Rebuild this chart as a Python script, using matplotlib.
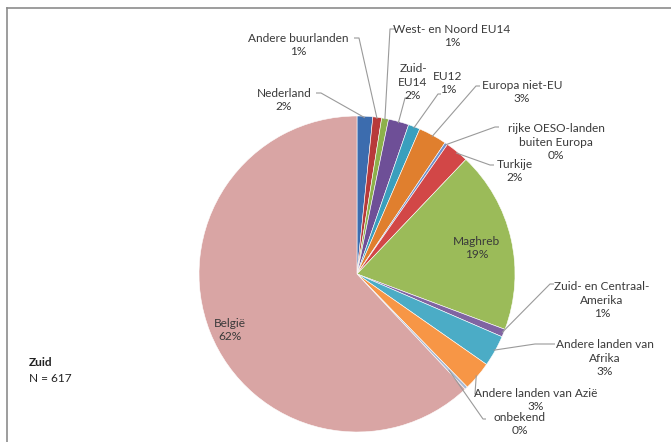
import numpy as np
import matplotlib
matplotlib.use("Agg")
import matplotlib.pyplot as plt
from matplotlib.lines import Line2D

plt.rcParams['font.family'] = ['Lato', 'DejaVu Sans']

# ---- data ----
categories = ["Nederland", "Andere buurlanden", "West- en Noord EU14", "Zuid-\nEU14", "EU12",
              "Europa niet-EU", "rijke OESO-landen\nbuiten Europa", "Turkije", "Maghreb",
              "Zuid- en Centraal-\nAmerika", "Andere landen van\nAfrika", "Andere landen van Azië",
              "onbekend", "België"]
shares = [1.6, 0.9, 0.7, 2.1, 1.2, 2.9, 0.3, 2.4, 18.6, 0.8, 3.2, 3.0, 0.3, 62.0]
pct_labels = ["2%", "1%", "1%", "2%", "1%", "3%", "0%", "2%", "19%", "1%", "3%", "3%", "0%", "62%"]
colors = ["#3C6CAE", "#B83A3A", "#8DB14A", "#6E4F97", "#3A9FBD", "#E07F2E", "#6F90CC",
          "#D24747", "#9BBB59", "#8064A2", "#4BACC6", "#F79646", "#A9B8D2", "#D9A5A4"]
region_title = "Zuid"
n_text = "N = 617"

W, H = 671, 442
fig = plt.figure(figsize=(W / 100, H / 100), dpi=100)
ax = fig.add_axes([0, 0, 1, 1])

def Y(yp):
    return H - yp

cx, cy, R = 357, Y(274), 158
wedges, _ = ax.pie(shares, colors=colors, startangle=90, counterclock=False,
                   center=(cx, cy), radius=R, frame=True,
                   wedgeprops=dict(linewidth=0.4, edgecolor='white'))
ax.set_xlim(0, W)
ax.set_ylim(0, H)
ax.set_aspect('equal')
ax.axis('off')

# label layout: (text center x, text center y, anchor x, anchor y, stub dx, radius factor)
layout = [
    (284, 100, 316, 93, 5, 0.99),
    (298, 45, 354, 38, 5, 0.99),
    (452, 36, 396, 29, -6, 0.99),
    (413, 82, 409, 98, -4, 0.99),
    (448, 83, 441, 94, -3, 0.99),
    (522, 92, 480, 86, -4, 0.99),
    (556, 142, 499, 127, -4, 0.99),
    (515, 171, 494, 165, -4, 0.99),
    None,
    (602, 300, 554, 284, -4, 0.99),
    (605, 358, 555, 344, -20, 0.99),
    (536, 400, 478, 394, -3, 0.99),
    (520, 424, 486, 419, -3, 0.84),
    None,
]
inside = {8: (477, 248), 13: (230, 330)}

total = sum(shares)
cum = 0.0
txtcol = "#3A3A3A"
fs = 8.6
for i, (name, v) in enumerate(zip(categories, shares)):
    mid = cum + v / 2
    cum += v
    ang = np.deg2rad(90 - 360 * mid / total)
    label = f"{name}\n{pct_labels[i]}"
    if i in inside:
        tx, ty = inside[i]
        ax.text(tx, Y(ty), label, ha='center', va='center', fontsize=fs,
                color=txtcol, linespacing=1.3)
        continue
    tx, ty, axp, ayp, sdx, rf = layout[i]
    ax.text(tx, Y(ty), label, ha='center', va='center', fontsize=fs,
            color=txtcol, linespacing=1.3)
    px = cx + R * rf * np.cos(ang)
    py = cy + R * rf * np.sin(ang)
    ax.plot([axp, axp + sdx, px], [Y(ayp), Y(ayp), py], color='#9A9A9A', lw=0.8,
            solid_capstyle='butt')

ax.text(29, Y(363), region_title, ha='left', va='center', fontsize=fs,
        fontweight='bold', color='#222222')
ax.text(29, Y(378), n_text, ha='left', va='center', fontsize=fs, color='#222222')

# chart frame (top and left border visible)
fig.add_artist(Line2D([7 / W, 1], [1 - 8 / H, 1 - 8 / H], color='#8C8C8C', lw=1.2,
                      transform=fig.transFigure))
fig.add_artist(Line2D([7 / W, 7 / W], [0, 1 - 8 / H], color='#8C8C8C', lw=1.2,
                      transform=fig.transFigure))

fig.savefig("out.png", dpi=100, facecolor='white')
